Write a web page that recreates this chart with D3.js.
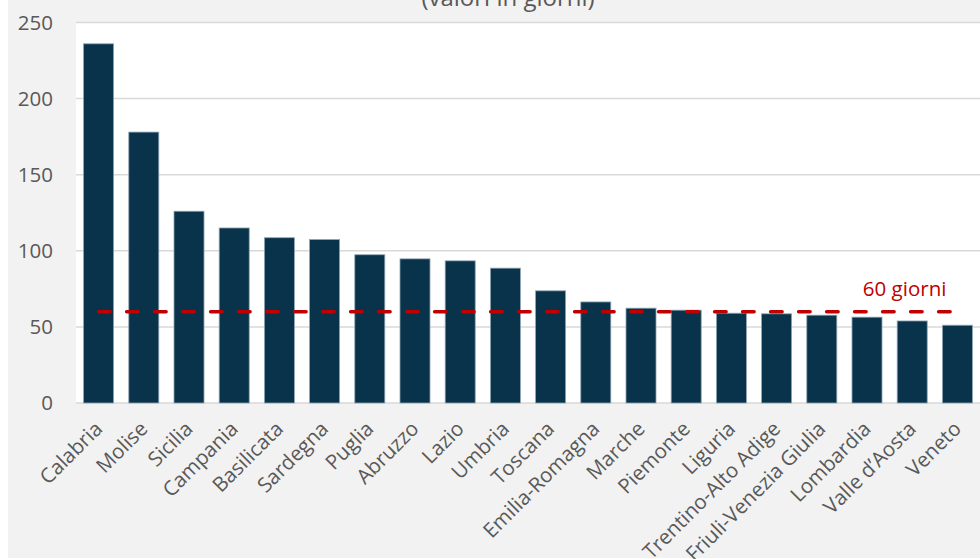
<!DOCTYPE html>
<html>
<head>
<meta charset="utf-8">
<script src="https://cdn.jsdelivr.net/npm/d3@7"></script>
<style>
  html, body { margin: 0; padding: 0; background: #ffffff; }
  svg { display: block; }
  text { font-family: "Open Sans", "Noto Sans", sans-serif; }
</style>
</head>
<body>
<svg id="chart" width="980" height="559"></svg>
<script>
const categories = ["Calabria","Molise","Sicilia","Campania","Basilicata","Sardegna","Puglia","Abruzzo","Lazio","Umbria","Toscana","Emilia-Romagna","Marche","Piemonte","Liguria","Trentino-Alto Adige","Friuli-Venezia Giulia","Lombardia","Valle d’Aosta","Veneto"];
const values = [236, 178, 126, 115, 108.6, 107.4, 97.4, 94.7, 93.4, 88.6, 73.7, 66.4, 62.3, 61, 59, 58.6, 57.7, 56.4, 53.9, 51.1];
const yTicks = [0, 50, 100, 150, 200, 250];
const threshold = 60;
const thresholdLabel = "60 giorni";
const subtitle = "(valori in giorni)";

const svg = d3.select("#chart");
const W = 980, H = 559;
const plot = { left: 76, right: 980, top: 22, bottom: 403 };

// outer background
svg.append("rect").attr("x", 8).attr("y", 0).attr("width", W - 8).attr("height", 558).attr("fill", "#f2f2f2");
// plot background
svg.append("rect").attr("x", plot.left).attr("y", plot.top).attr("width", plot.right - plot.left).attr("height", plot.bottom - plot.top).attr("fill", "#ffffff");

const x = d3.scaleBand().domain(categories).range([plot.left, plot.right]).paddingInner(0.336).paddingOuter(0.168);
const y = d3.scaleLinear().domain([0, 250]).range([plot.bottom, plot.top + 0.5]);

// gridlines
svg.append("g").selectAll("line").data(yTicks).join("line")
  .attr("x1", plot.left).attr("x2", plot.right)
  .attr("y1", d => y(d)).attr("y2", d => y(d))
  .attr("stroke", "#d9d9d9").attr("stroke-width", 1.5);

// y axis labels
const yAxis = d3.axisLeft(y).tickValues(yTicks).tickSize(0).tickPadding(0);
const gy = svg.append("g").attr("transform", `translate(53,0)`).call(yAxis);
gy.select(".domain").remove();
gy.selectAll("text").attr("font-size", 20.5).attr("fill", "#595959").attr("font-family", "Open Sans");

// bars
svg.append("g").selectAll("rect").data(values).join("rect")
  .attr("x", (d, i) => x(categories[i]))
  .attr("y", d => y(d))
  .attr("width", x.bandwidth())
  .attr("height", d => y(0) - y(d))
  .attr("fill", "#08334a")
  .attr("stroke", "#8fa5b4").attr("stroke-width", 0.8);

// x axis labels (the two longest run off the bottom edge, as in the original)
const xAxis = d3.axisBottom(x).tickSize(0).tickPadding(0);
const gx = svg.append("g").attr("transform", `translate(0,${plot.bottom})`).call(xAxis);
gx.select(".domain").remove();
gx.selectAll("text")
  .attr("font-size", 20.5).attr("fill", "#595959").attr("font-family", "Open Sans")
  .attr("text-anchor", "end")
  .attr("dy", "0.35em")
  .attr("transform", "translate(0,22) rotate(-45)");

// threshold line
const xs = [categories[0], categories[categories.length - 1]];
const line = d3.line().x(d => x(d) + x.bandwidth() / 2).y(() => y(threshold));
svg.append("path").datum(xs).attr("d", line)
  .attr("fill", "none").attr("stroke", "#c00000").attr("stroke-width", 3.5)
  .attr("stroke-linecap", "round").attr("stroke-dasharray", "11.5,16.5");

svg.append("text").attr("x", x(categories[categories.length - 1]) + 4).attr("y", y(threshold) - 16)
  .attr("text-anchor", "end").attr("font-size", 20.5).attr("fill", "#c00000").text(thresholdLabel);

// subtitle (partially cut at top, as in the original)
svg.append("text").attr("x", 508).attr("y", 6).attr("text-anchor", "middle")
  .attr("font-size", 24).attr("fill", "#595959").text(subtitle);
</script>
</body>
</html>
